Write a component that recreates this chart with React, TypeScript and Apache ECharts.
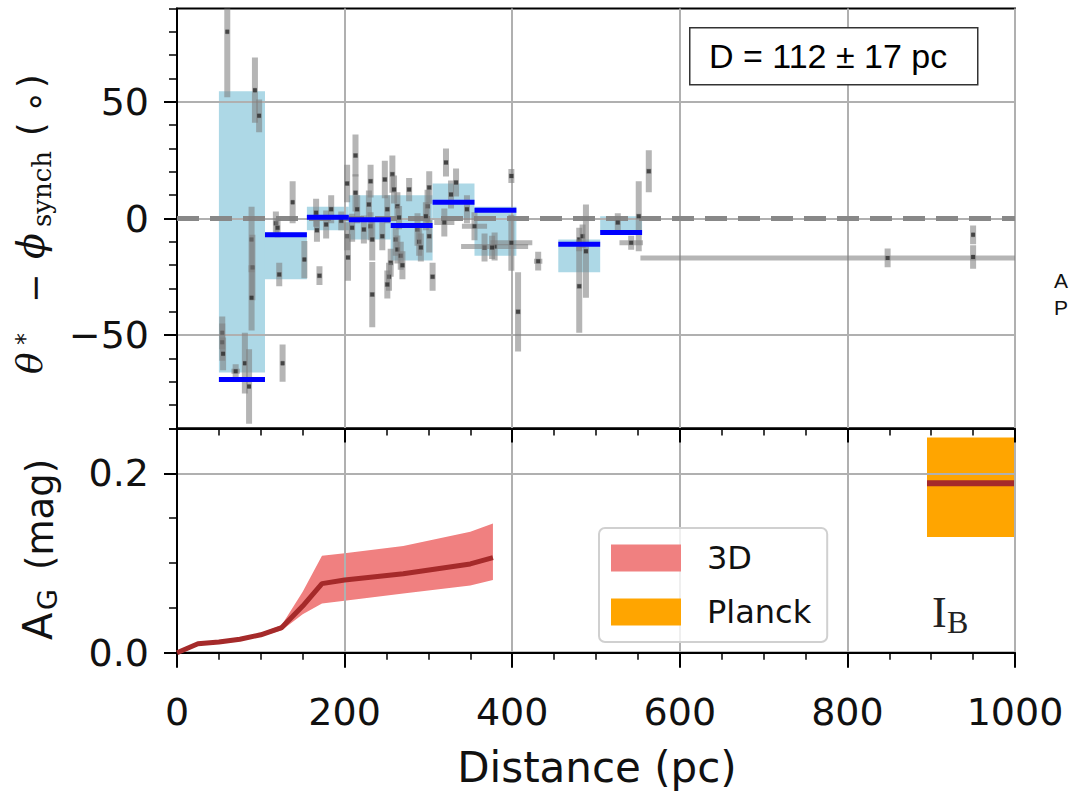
import React, { useEffect, useRef } from 'react';
import * as echarts from 'echarts';

// ---------------- data ----------------
const xTickValues = [0, 200, 400, 600, 800, 1000];
const topMajorTicks = [-50, 0, 50];
const bottomMajorTicks = [0, 0.2];

// distance bins (pc) with median offset and spread (deg)
const binStart = [50, 105, 155, 205, 255, 305, 355, 455, 505];
const binEnd = [105, 155, 205, 255, 305, 355, 405, 505, 555];
const binMedian = [-69, -7, 0.5, -0.5, -3, 7, 3.5, -11, -6];
const binLow = [-66, -26, -5, -9, -18, 0, -16, -23, -6];
const binHigh = [54.5, -6, 5, 10, 10, 15, 5, -9, 1];

// individual stars
const starDist = [60, 93, 98, 89, 90, 89, 54, 54, 55, 70, 81, 86,
  126, 122, 118, 120, 138, 152, 170,
  166, 167, 178, 184, 196, 203, 203, 204,
  213, 213, 215, 209, 223, 229, 231, 231, 233, 233, 248, 251, 245,
  257, 259, 263, 265, 261, 255, 253, 251, 263, 267, 269, 277, 287, 289, 291, 299, 301, 301, 297, 305,
  321, 327, 333, 319, 346, 355,
  367, 379, 376, 399, 399, 407, 431,
  480, 484, 488, 480,
  526, 542, 551, 563,
  848, 950, 950];
const starAngle = [80, 55, 44, -9, -21, -34, -49, -53, -58, -65.5, -62, -72,
  -62, -24, -2, -4, 7, -17.6, -24.5,
  2.5, -5, -2.6, 4, -1, 15, -7.6, -16.7,
  27, 11, 4, -4, -4.7, 6, 16, -3.3, -9, -32.6, 16.7, 4, -7.6,
  19, 12.4, 5.3, 0.4, -9, -19, -25, -28.3, -13.3, -16, -20, 12.4, -4.7, -10, -12.4, 5.3, 13.3, -7.6, 1, -25,
  24, 10.3, 15.4, -1.7, 4, -3.3,
  -12.4, -12, -12.4, 18.2, -10.4, -40, -18.3,
  -9, -7.6, -14, -29,
  -1.7, -10.4, 1, 20.3,
  -16.9, -7, -16.5];
const starDistErr = [2, 2, 2, 2, 2, 2, 2, 2, 2, 5, 2, 2,
  2, 3, 3, 3, 2, 2, 3,
  3, 3, 3, 3, 3, 3, 3, 3,
  3, 3, 3, 3, 3, 3, 3, 3, 3, 3, 3, 3, 3,
  3, 3, 3, 3, 3, 3, 3, 3, 3, 3, 3, 3, 3, 3, 3, 3, 3, 3, 3, 3,
  3, 3, 3, 12, 3, 15,
  3, 40, 3, 3, 25, 3, 5,
  3, 3, 3, 3,
  3, 14, 3, 3,
  295, 2, 2];
const starAngleErr = [28, 14, 7, 14, 14, 14, 7, 8, 7, 3, 13, 16,
  8, 5, 5, 4, 9, 8, 4,
  6, 5, 6, 6, 4, 8, 6, 10,
  9, 8, 6, 6, 6, 6, 7, 6, 9, 14, 8, 6, 6,
  8, 6, 6, 5, 7, 6, 6, 6, 6, 6, 6, 5, 7, 6, 6, 7, 7, 7, 6, 6,
  6, 6, 6, 6, 6, 6,
  6, 6, 5, 3, 12, 17, 4,
  5, 5, 20, 20,
  4, 3, 15, 9,
  4, 4, 5];

// extinction profile (3D map)
const extDist = [0, 25, 50, 75, 100, 125, 150, 173, 200, 270, 350, 377];
const extMedian = [0, 0.010, 0.012, 0.015, 0.020, 0.028, 0.052, 0.077, 0.081, 0.088, 0.099, 0.106];
const extLower = [0, 0.008, 0.010, 0.013, 0.018, 0.025, 0.043, 0.055, 0.058, 0.066, 0.075, 0.081];
const extUpper = [0, 0.012, 0.014, 0.017, 0.022, 0.031, 0.068, 0.108, 0.111, 0.119, 0.135, 0.144];

// Planck extinction
const planckStart = [895];
const planckEnd = [1000];
const planckMedian = [0.189];
const planckLow = [0.129];
const planckHigh = [0.240];

// ---------------- styles ----------------
const SANS = 'DejaVu Sans';
const SERIF = 'DejaVu Serif';
const BLACK = '#000';
const GRID_GRAY = '#b0b0b0';

const App: React.FC = () => {
  const ref = useRef<HTMLDivElement>(null);

  useEffect(() => {
    if (!ref.current) return;
    const chart = echarts.init(ref.current, undefined, { renderer: 'svg' });

    const axisLine = { show: true, onZero: false, lineStyle: { color: BLACK, width: 2 } };

    const xAxisBase = {
      type: 'value',
      position: 'bottom',
      min: 0,
      max: 1000,
      interval: 200,
      axisLine,
      axisTick: { show: true, inside: false, length: 14, lineStyle: { color: BLACK, width: 2 } },
      minorTick: { show: true, splitNumber: 4, length: 7, lineStyle: { color: BLACK, width: 1.5 } },
      splitLine: { show: true, lineStyle: { color: GRID_GRAY, width: 2 } },
      minorSplitLine: { show: false },
    };

    const binData = binStart.map((s, i) => [s, binEnd[i], binLow[i], binHigh[i], binMedian[i]]);
    const starData = starDist.map((d, i) => [d, starAngle[i], starDistErr[i], starAngleErr[i]]);
    const planckData = planckStart.map((s, i) => [s, planckEnd[i], planckLow[i], planckHigh[i], planckMedian[i]]);

    const option: any = {
      animation: false,
      backgroundColor: '#fff',
      grid: [
        { left: 177, top: 8.5, width: 838, height: 420, show: true, borderColor: BLACK, borderWidth: 2 },
        { left: 177, top: 428.5, width: 838, height: 224.2, show: true, borderColor: BLACK, borderWidth: 2 },
      ],
      xAxis: [
        { ...xAxisBase, gridIndex: 0, axisLabel: { show: false } },
        {
          ...xAxisBase,
          gridIndex: 1,
          axisTick: { show: true, inside: false, length: 15, lineStyle: { color: BLACK, width: 2 } },
          axisLabel: {
            show: true, fontSize: 38, fontFamily: SANS, color: '#111', margin: 40,
            customValues: xTickValues,
            formatter: (v: number) => String(v),
          },
        },
      ],
      yAxis: [
        {
          type: 'value', gridIndex: 0, position: 'left', min: -90, max: 90, splitNumber: 4,
          axisLine,
          axisTick: { show: true, length: 13, lineStyle: { color: BLACK, width: 2 }, customValues: topMajorTicks },
          axisLabel: {
            show: true, fontSize: 38, fontFamily: SANS, color: '#111', margin: 28,
            customValues: topMajorTicks,
            formatter: (v: number) => (v < 0 ? '\u2212' + Math.abs(v) : String(v)),
          },
          splitLine: { show: true, lineStyle: { color: GRID_GRAY, width: 2 } },
        },
        {
          type: 'value', gridIndex: 1, position: 'left', min: 0, max: 0.25, interval: 0.2,
          axisLine,
          axisTick: { show: true, length: 13, lineStyle: { color: BLACK, width: 2 }, customValues: bottomMajorTicks },
          axisLabel: {
            show: true, fontSize: 38, fontFamily: SANS, color: '#111', margin: 28,
            customValues: bottomMajorTicks,
            formatter: (v: number) => v.toFixed(1),
          },
          splitLine: { show: true, lineStyle: { color: GRID_GRAY, width: 2 } },
        },
        {
          type: 'value', gridIndex: 0, position: 'left', offset: 0, min: -90, max: 90, interval: 10,
          axisLine: { show: false, onZero: false },
          axisTick: { show: true, length: 8, lineStyle: { color: BLACK, width: 1.5 } },
          axisLabel: { show: false },
          splitLine: { show: false },
        },
        {
          type: 'value', gridIndex: 1, position: 'left', offset: 0, min: 0, max: 0.25, interval: 0.05,
          axisLine: { show: false, onZero: false },
          axisTick: { show: true, length: 8, lineStyle: { color: BLACK, width: 1.5 } },
          axisLabel: { show: false },
          splitLine: { show: false },
        },
      ],
      legend: {
        show: true,
        orient: 'vertical',
        left: 599,
        top: 528,
        padding: [14, 16, 14, 12],
        itemWidth: 70,
        itemHeight: 27,
        itemGap: 22,
        selectedMode: false,
        backgroundColor: 'rgba(255,255,255,0.8)',
        borderColor: '#d0d0d0',
        borderWidth: 2,
        borderRadius: 6,
        textStyle: { fontSize: 32, fontFamily: SANS, color: '#111', padding: [0, 0, 0, 21] },
        data: [
          { name: '3D', icon: 'rect', itemStyle: { color: '#f08080' } },
          { name: 'Planck', icon: 'rect', itemStyle: { color: '#ffa500' } },
        ],
      },
      series: [
        // light-blue spread boxes
        {
          name: 'bins', type: 'custom', xAxisIndex: 0, yAxisIndex: 0, z: -1, clip: true,
          data: binData,
          renderItem: (params: any, api: any) => {
            const p0 = api.coord([api.value(0), api.value(3)]);
            const p1 = api.coord([api.value(1), api.value(2)]);
            return {
              type: 'rect',
              shape: { x: p0[0], y: p0[1], width: p1[0] - p0[0], height: p1[1] - p0[1] },
              style: { fill: '#add8e6' },
            };
          },
        },
        // dashed zero line
        {
          name: 'zero', type: 'line', xAxisIndex: 0, yAxisIndex: 0, z: 1,
          data: [[0, 0], [1000, 0]],
          showSymbol: false, silent: true,
          lineStyle: { color: '#888', width: 5, type: [22, 11] },
        },
        // stars with error bars
        {
          name: 'stars', type: 'custom', xAxisIndex: 0, yAxisIndex: 0, z: 2, clip: true,
          data: starData,
          renderItem: (params: any, api: any) => {
            const d = api.value(0), v = api.value(1), de = api.value(2), ve = api.value(3);
            const c = api.coord([d, v]);
            const top = api.coord([d, v + ve]);
            const bot = api.coord([d, v - ve]);
            const left = api.coord([d - de, v]);
            const right = api.coord([d + de, v]);
            return {
              type: 'group',
              children: [
                { type: 'rect', shape: { x: c[0] - 3, y: top[1], width: 6, height: bot[1] - top[1] }, style: { fill: 'rgba(128,128,128,0.58)' } },
                { type: 'rect', shape: { x: left[0], y: c[1] - 2.5, width: right[0] - left[0], height: 5 }, style: { fill: 'rgba(128,128,128,0.58)' } },
                { type: 'rect', shape: { x: c[0] - 2, y: c[1] - 2, width: 4, height: 4 }, style: { fill: 'rgba(25,25,25,0.65)' } },
              ],
            };
          },
        },
        // blue medians
        {
          name: 'medians', type: 'custom', xAxisIndex: 0, yAxisIndex: 0, z: 3, clip: true,
          data: binData,
          renderItem: (params: any, api: any) => {
            const p0 = api.coord([api.value(0), api.value(4)]);
            const p1 = api.coord([api.value(1), api.value(4)]);
            return {
              type: 'rect',
              shape: { x: p0[0], y: p0[1] - 2.5, width: p1[0] - p0[0], height: 5 },
              style: { fill: '#0000ff' },
            };
          },
        },
        // 3D extinction band
        {
          name: '3D', type: 'custom', xAxisIndex: 1, yAxisIndex: 1, z: -1, clip: true,
          itemStyle: { color: '#f08080' },
          data: [[extDist[0], extLower[0], extUpper[0]]],
          renderItem: (params: any, api: any) => {
            const pts: number[][] = [];
            for (let i = 0; i < extDist.length; i++) pts.push(api.coord([extDist[i], extUpper[i]]));
            for (let i = extDist.length - 1; i >= 0; i--) pts.push(api.coord([extDist[i], extLower[i]]));
            return { type: 'polygon', shape: { points: pts }, style: { fill: '#f08080' } };
          },
        },
        {
          name: '3D median', type: 'line', xAxisIndex: 1, yAxisIndex: 1, z: 2,
          data: extDist.map((d, i) => [d, extMedian[i]]),
          showSymbol: false, silent: true,
          lineStyle: { color: '#a52a2a', width: 5 },
        },
        // Planck box
        {
          name: 'Planck', type: 'custom', xAxisIndex: 1, yAxisIndex: 1, z: -1, clip: true,
          itemStyle: { color: '#ffa500' },
          data: planckData,
          renderItem: (params: any, api: any) => {
            const p0 = api.coord([api.value(0), api.value(3)]);
            const p1 = api.coord([api.value(1), api.value(2)]);
            const m = api.coord([api.value(0), api.value(4)]);
            return {
              type: 'group',
              children: [
                { type: 'rect', shape: { x: p0[0], y: p0[1], width: p1[0] - p0[0], height: p1[1] - p0[1] }, style: { fill: '#ffa500' } },
                { type: 'rect', shape: { x: p0[0], y: m[1] - 3, width: p1[0] - p0[0], height: 6 }, style: { fill: '#a52a2a' } },
              ],
            };
          },
        },
      ],
      graphic: [
        // distance annotation box
        {
          type: 'rect', left: 689, top: 27, z: 10,
          shape: { width: 288, height: 57 },
          style: { fill: '#fff', stroke: '#333', lineWidth: 1.5 },
        },
        {
          type: 'text', x: 709, y: 56, z: 11,
          style: { text: 'D = 112 \u00b1 17 pc', fontSize: 34, fontFamily: 'Liberation Sans', fill: '#000', align: 'left', verticalAlign: 'middle' },
        },
        // I_B label
        {
          type: 'text', x: 932, y: 612, z: 10,
          style: { text: 'I', fontSize: 44, fontFamily: 'Liberation Serif', fill: '#222', align: 'left', verticalAlign: 'middle' },
        },
        {
          type: 'text', x: 947, y: 622, z: 10,
          style: { text: 'B', fontSize: 32, fontFamily: 'Liberation Serif', fill: '#222', align: 'left', verticalAlign: 'middle' },
        },
        // stray letters on the right
        {
          type: 'text', x: 1054, y: 280, z: 10,
          style: { text: 'A', fontSize: 21, fontFamily: 'Liberation Sans', fill: '#111', align: 'left', verticalAlign: 'middle' },
        },
        {
          type: 'text', x: 1054, y: 307, z: 10,
          style: { text: 'P', fontSize: 21, fontFamily: 'Liberation Sans', fill: '#111', align: 'left', verticalAlign: 'middle' },
        },
        // x axis title
        {
          type: 'text', x: 597, y: 767, z: 10,
          style: { text: 'Distance (pc)', fontSize: 42, fontFamily: SANS, fill: '#111', align: 'center', verticalAlign: 'middle' },
        },
        // top y title: θ* − φ_synch (∘)
        {
          type: 'group', x: 42, y: 373, rotation: Math.PI / 2, z: 10,
          children: [
            { type: 'text', x: -1, y: -12.5, style: { text: '\u03b8', fontSize: 36, fontStyle: 'italic', fontFamily: SERIF, fill: '#111', align: 'left', verticalAlign: 'middle' } },
            { type: 'text', x: 28, y: -17, style: { text: '*', fontSize: 24, fontFamily: SANS, fill: '#111', align: 'left', verticalAlign: 'middle' } },
            { type: 'text', x: 70, y: -7, style: { text: '\u2212', fontSize: 35, fontFamily: SANS, fill: '#111', align: 'left', verticalAlign: 'middle' } },
            { type: 'text', x: 114, y: -11.5, style: { text: '\u03d5', fontSize: 38, fontStyle: 'italic', fontFamily: SERIF, fill: '#111', align: 'left', verticalAlign: 'middle' } },
            { type: 'text', x: 146, y: 0, style: { text: 'synch', fontSize: 26, fontFamily: SERIF, fill: '#111', align: 'left', verticalAlign: 'middle' } },
            { type: 'text', x: 237, y: -11, style: { text: '(', fontSize: 35, fontFamily: SANS, fill: '#111', align: 'left', verticalAlign: 'middle' } },
            { type: 'text', x: 260, y: -8, style: { text: '\u2218', fontSize: 36, fontFamily: SANS, fill: '#111', align: 'left', verticalAlign: 'middle' } },
            { type: 'text', x: 285, y: -11, style: { text: ')', fontSize: 35, fontFamily: SANS, fill: '#111', align: 'left', verticalAlign: 'middle' } },
          ],
        },
        // bottom y title: A_G (mag)
        {
          type: 'group', x: 53, y: 640, rotation: Math.PI / 2, z: 10,
          children: [
            { type: 'text', x: 0, y: -15.5, style: { text: 'A', fontSize: 40, fontFamily: SANS, fill: '#111', align: 'left', verticalAlign: 'middle' } },
            { type: 'text', x: 30, y: -6, style: { text: 'G', fontSize: 27, fontFamily: SANS, fill: '#111', align: 'left', verticalAlign: 'middle' } },
            { type: 'text', x: 70, y: -13, style: { text: '(mag)', fontSize: 37, fontFamily: SANS, fill: '#111', align: 'left', verticalAlign: 'middle' } },
          ],
        },
      ],
    };

    chart.setOption(option);
    return () => chart.dispose();
  }, []);

  return <div ref={ref} style={{ position: 'absolute', left: 0, top: 0, width: 1070, height: 791, background: '#fff' }} />;
};

export default App;
